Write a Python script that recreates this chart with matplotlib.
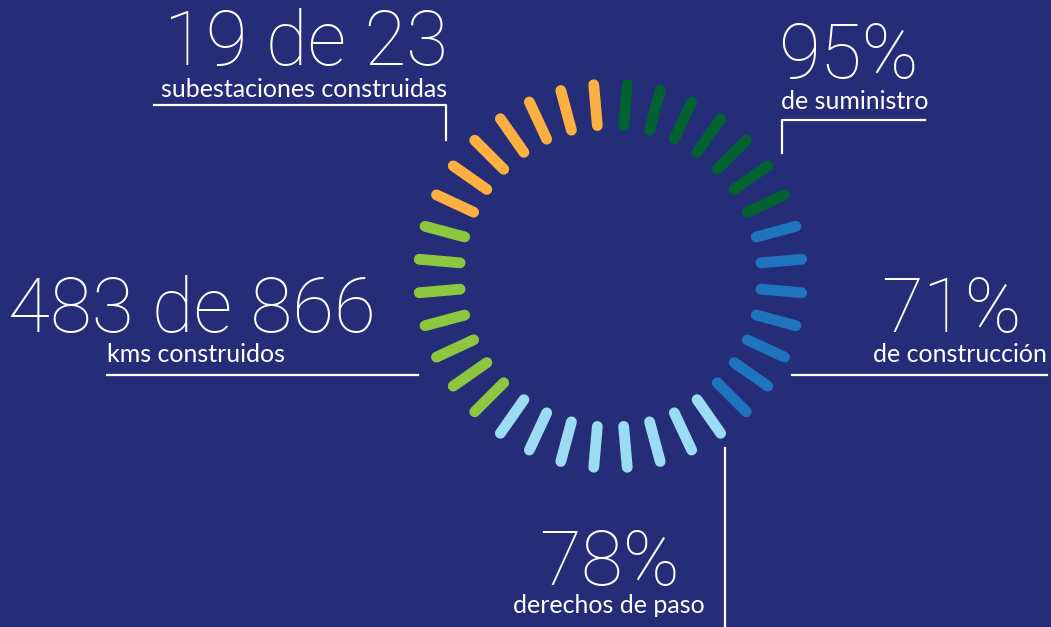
import numpy as np
import matplotlib
matplotlib.use("Agg")
import matplotlib.pyplot as plt

# ring segments, clockwise from the top
segment_names = ["suministro", "construccion", "derechos", "kms", "subestaciones"]
segment_counts = [7, 7, 8, 7, 7]
segment_colors = ["#00632F", "#1F74BE", "#9CDCF3", "#8DC63F", "#FBB041"]

# labels around the ring
big_texts = ["19 de 23", "95%", "483 de 866", "71%", "78%"]
small_texts = ["subestaciones construidas", "de suministro", "kms construidos",
               "de construcción", "derechos de paso"]

BG = "#252C78"
W, H = 1051, 627
cx, cy = 610.5, 276.0
r_in, r_out = 151, 192

plt.rcParams['font.family'] = ['Lato', 'DejaVu Sans']

fig = plt.figure(figsize=(W / 100, H / 100), dpi=100, facecolor=BG)

# base axes in pixel coordinates for the text and leader lines
ax = fig.add_axes([0, 0, 1, 1])
ax.set_xlim(0, W)
ax.set_ylim(H, 0)
ax.axis('off')
ax.set_facecolor(BG)

# polar axes for the ring
R = 200
pax = fig.add_axes([(cx - R) / W, (H - cy - R) / H, 2 * R / W, 2 * R / H], projection='polar')
pax.set_theta_zero_location('N')
pax.set_theta_direction(-1)
pax.set_rlim(0, R)
pax.axis('off')
pax.patch.set_alpha(0)

n_total = sum(segment_counts)
step = 360.0 / n_total
k = 0
for count, col in zip(segment_counts, segment_colors):
    for i in range(count):
        th = np.deg2rad(step / 2 + k * step)
        pax.plot([th, th], [r_in, r_out], color=col, lw=7.8, solid_capstyle='round')
        k += 1

white = "white"
big_kw = dict(color=white, fontsize=55, family=['Roboto', 'DejaVu Sans'],
              fontweight='light', va='baseline')
small_kw = dict(color=white, fontsize=18, va='baseline')
lw = 1.6

# 19 de 23
ax.text(448, 65, big_texts[0], ha='right', **big_kw)
ax.text(447, 97, small_texts[0], ha='right', **small_kw)
ax.plot([154, 446, 446], [105, 105, 140], color=white, lw=lw)

# 95%
ax.text(778, 78, big_texts[1], ha='left', **big_kw)
ax.text(781, 109, small_texts[1], ha='left', **small_kw)
ax.plot([782, 782, 925], [153, 120, 120], color=white, lw=lw)

# 483 de 866
ax.text(8, 332, big_texts[2], ha='left', **big_kw)
ax.text(107, 362, small_texts[2], ha='left', **small_kw)
ax.plot([107, 418], [375, 375], color=white, lw=lw)

# 71%
ax.text(1022, 332, big_texts[3], ha='right', **big_kw)
ax.text(1047, 362, small_texts[3], ha='right', **small_kw)
ax.plot([792, 1047], [375, 375], color=white, lw=lw)

# 78%
ax.text(609, 585, big_texts[4], ha='center', **big_kw)
ax.text(609, 613, small_texts[4], ha='center', **small_kw)
ax.plot([725, 725], [448, 627], color=white, lw=lw)

fig.savefig("out.png", dpi=100, facecolor=BG)
